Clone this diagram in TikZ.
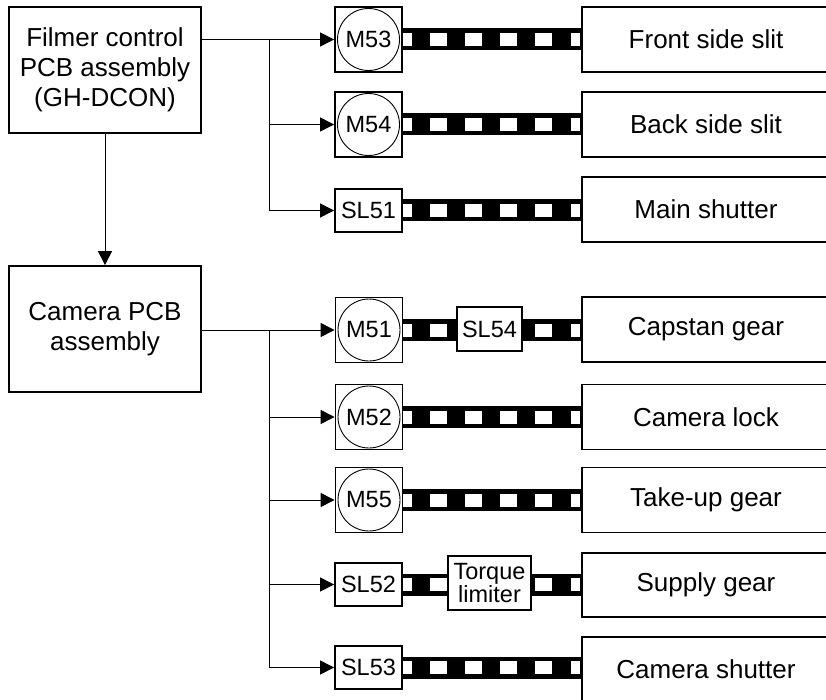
\documentclass[tikz,border=0pt]{standalone}
\usepackage{fontspec}
\setmainfont{Liberation Sans}
\usetikzlibrary{arrows.meta}
\tikzset{
  box/.style={draw, line width=1.8pt, fill=white, inner sep=0pt, align=center,
    font=\fontsize{26}{30}\selectfont},
  dev/.style={draw, line width=1.8pt, fill=white, inner sep=0pt, align=center,
    font=\fontsize{23.5}{22}\selectfont, minimum width=67pt},
  motor/.style={dev, minimum height=65pt,
    path picture={\draw[line width=0.9pt] (path picture bounding box.center) circle (31pt);}},
  sol/.style={dev, minimum height=43pt},
  target/.style={box, minimum width=248pt, minimum height=65pt},
  conn/.style={line width=1pt},
  arr/.style={line width=1pt, -{Triangle[length=14pt, width=14pt]}},
}
\newcommand{\shaftrow}[1]{%
  \fill[black] (402,#1-11) rectangle (582,#1+11);
  \foreach \a/\b in {402/412,430/447,465/482,500/517,535/552,571/580}
    \fill[white] (\a,#1-6.5) rectangle (\b,#1+6.5);
}
\begin{document}
\begin{tikzpicture}[x=1pt, y=-1pt]
\useasboundingbox (0,0) rectangle (826,700);
\clip (0,0) rectangle (826,700);

% shafts first
\shaftrow{39.5}
\shaftrow{124.5}
\shaftrow{210.5}
\shaftrow{330}
\shaftrow{417}
\shaftrow{500}
\shaftrow{584.5}
\shaftrow{667.5}

% control boards
\node[box, minimum width=192pt, minimum height=126pt] (filmer) at (105,70)
  {Filmer control\\PCB assembly\\(GH-DCON)};
\node[box, minimum width=192pt, minimum height=126pt] (camera) at (105,329)
  {Camera PCB\\assembly};

% upper group
\node[motor] (m53) at (368.5,39.5) {M53};
\node[motor] (m54) at (368.5,124.5) {M54};
\node[sol] (sl51) at (368.5,210.5) {SL51};
\node[target] (front) at (706,39.5) {Front side slit};
\node[target] (back) at (706,124.5) {Back side slit};
\node[target] (main) at (706,209.5) {Main shutter};

% lower group
\node[motor] (m51) at (369,330) {M51};
\node[sol, minimum width=65pt, minimum height=44pt] (sl54) at (489.5,329) {SL54};
\node[motor] (m52) at (369,417) {M52};
\node[motor] (m55) at (369,500) {M55};
\node[sol] (sl52) at (368.5,584.5) {SL52};
\node[dev, minimum width=83pt, minimum height=54pt, font=\fontsize{23.5}{21}\selectfont] (torque) at (489.5,583) {Torque\\limiter};
\node[sol] (sl53) at (368.5,667.5) {SL53};
\node[target] (capstan) at (706,329.5) {Capstan gear};
\node[target] (lock) at (706,417) {Camera lock};
\node[target] (takeup) at (706,500) {Take-up gear};
\node[target, minimum height=64pt] (supply) at (706,585) {Supply gear};
\node[target] (cshut) at (706,669.5) {Camera shutter};

% connectors
\coordinate (b1) at (269,39.5);
\coordinate (b2) at (269,330);
\draw[arr] (filmer.east |- m53.west) -- (m53.west);
\draw[arr] (b1) |- (m54.west);
\draw[arr] (b1) |- (sl51.west);
\draw[arr] (filmer.south) -- (camera.north);
\draw[arr] (camera.east |- m51.west) -- (m51.west);
\draw[arr] (b2) |- (m52.west);
\draw[arr] (b2) |- (m55.west);
\draw[arr] (b2) |- (sl52.west);
\draw[arr] (b2) |- (sl53.west);
\end{tikzpicture}
\end{document}
